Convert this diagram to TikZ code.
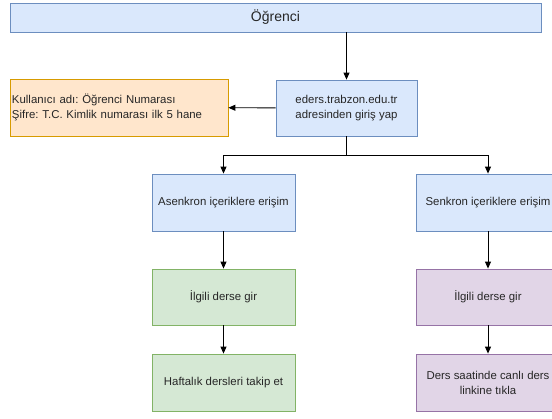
\documentclass[tikz,border=0pt]{standalone}
\usepackage{fontspec}
\setmainfont{Liberation Sans}
\usetikzlibrary{arrows.meta}
\definecolor{blueFill}{HTML}{DAE8FC}
\definecolor{blueLine}{HTML}{6C8EBF}
\definecolor{orangeFill}{HTML}{FFE6CC}
\definecolor{orangeLine}{HTML}{D79B00}
\definecolor{greenFill}{HTML}{D5E8D4}
\definecolor{greenLine}{HTML}{82B366}
\definecolor{purpleFill}{HTML}{E1D5E7}
\definecolor{purpleLine}{HTML}{9673A6}
\newcommand{\boxfont}{\fontsize{11.4}{15}\selectfont\frenchspacing}

\begin{document}
\begin{tikzpicture}[x=1pt, y=-1pt,
    box/.style={draw, line width=0.8pt, inner sep=2pt, align=center,
      font=\boxfont, minimum height=57pt, text=black!85},
    bluebox/.style={box, fill=blueFill, draw=blueLine},
    orangebox/.style={box, fill=orangeFill, draw=orangeLine},
    greenbox/.style={box, fill=greenFill, draw=greenLine},
    purplebox/.style={box, fill=purpleFill, draw=purpleLine},
    link/.style={line width=0.9pt, -{Triangle[length=7pt, width=6pt]}}]
        \useasboundingbox (0,0) rectangle (552,419);
        \node[bluebox, minimum width=531pt, minimum height=29pt,
          font=\fontsize{14}{16}\selectfont] (S) at (275.5, 17.5) {Öğrenci};
        \node[bluebox, minimum width=141pt, minimum height=56pt] (P) at (346.5, 108)
          {eders.trabzon.edu.tr\\adresinden giriş yap};
        \node[orangebox, text width=214pt, inner xsep=2pt, align=left] (L) at (119, 107.5)
          {Kullanıcı adı: Öğrenci Numarası\\Şifre: T.C. Kimlik numarası ilk 5 hane};
        \node[bluebox, minimum width=143pt] (A1) at (223.5, 202.5) {Asenkron içeriklere erişim};
        \node[greenbox, minimum width=143pt, minimum height=56pt] (A2) at (223.5, 297) {İlgili derse gir};
        \node[greenbox, minimum width=143pt] (A3) at (223.5, 382.5) {Haftalık dersleri takip et};
        \node[bluebox, minimum width=143pt] (B1) at (488, 202.5) {Senkron içeriklere erişim};
        \node[purplebox, minimum width=143pt, minimum height=56pt] (B2) at (488, 297) {İlgili derse gir};
        \node[purplebox, minimum width=143pt] (B3) at (488, 382.5)
          {Ders saatinde canlı ders\\linkine tıkla};
        \coordinate (split) at (346.5, 155);
        \draw[link] (S.south -| P) to (P);
        \draw[link] (P) to (L);
        \draw[line width=0.9pt] (P) to (split);
        \draw[link] (split) -| (A1);
        \draw[link] (split) -| (B1);
        \draw[link] (A1) to (A2);
        \draw[link] (A2) to (A3);
        \draw[link] (B1) to (B2);
        \draw[link] (B2) to (B3);
      \end{tikzpicture}
\end{document}
